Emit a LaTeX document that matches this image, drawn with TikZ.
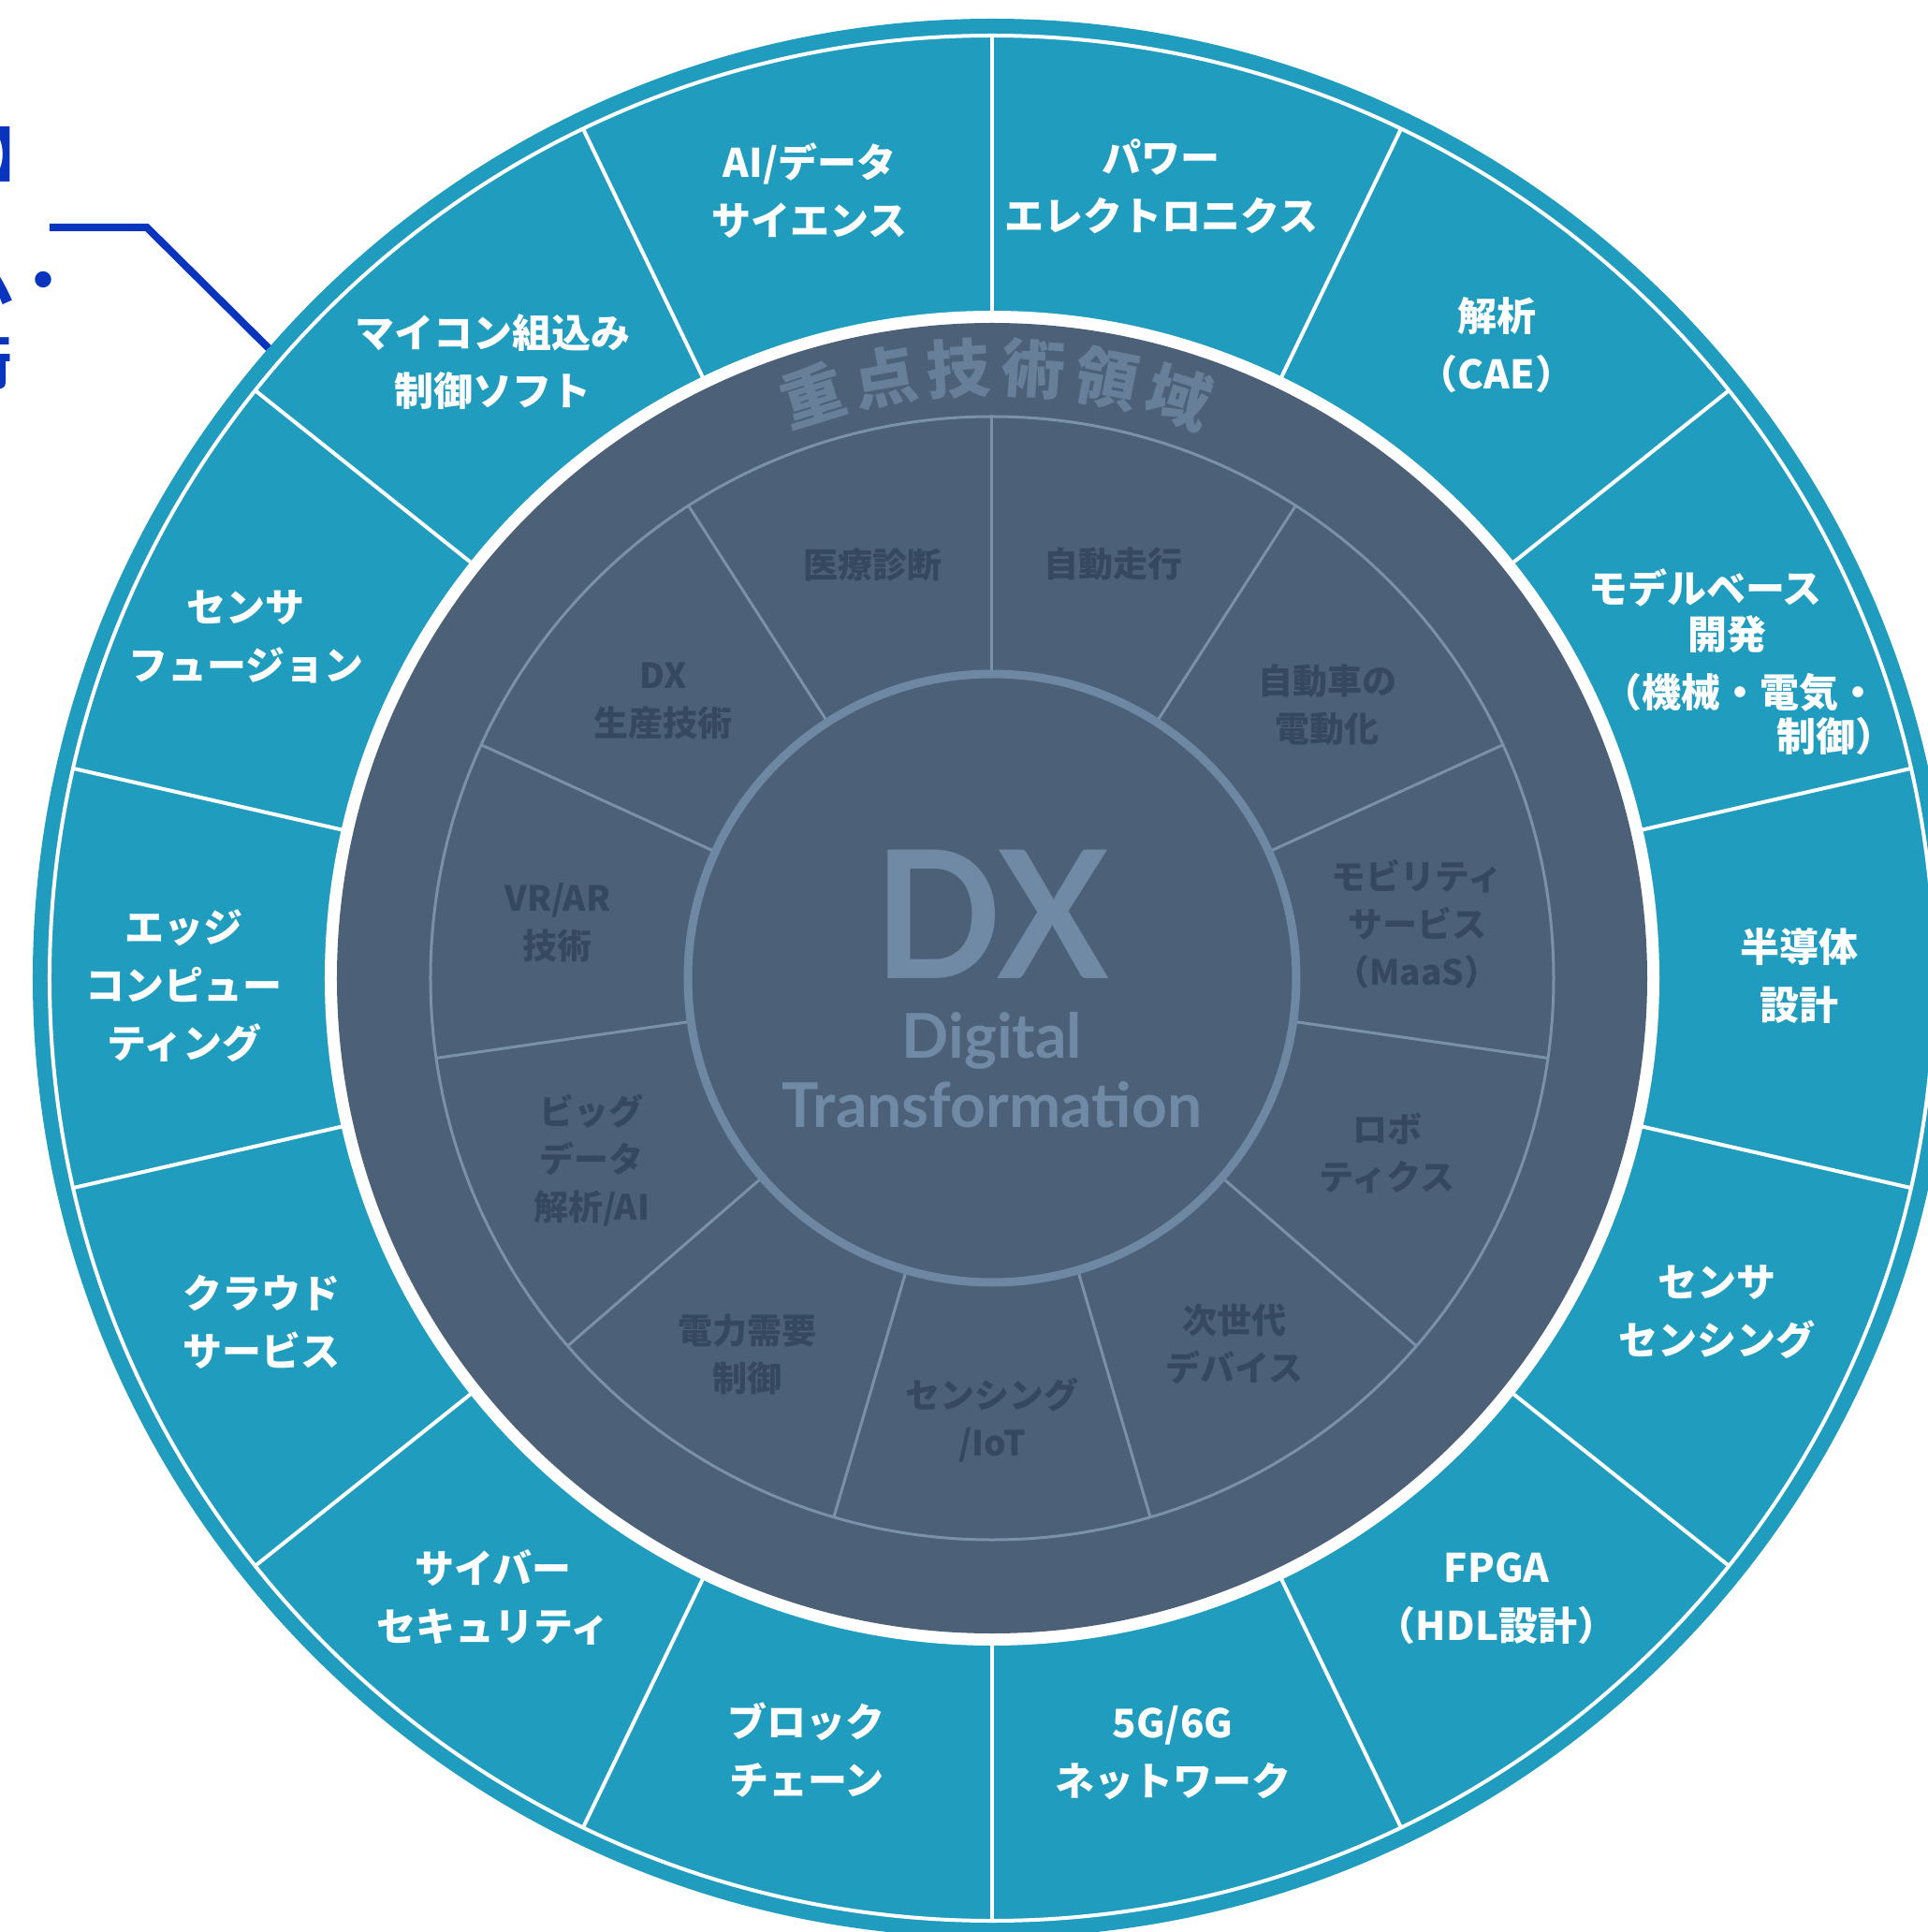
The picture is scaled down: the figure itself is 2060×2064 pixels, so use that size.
\documentclass[tikz,border=0pt]{standalone}
\usepackage{fontspec}
\newfontfamily\jp{Noto Sans CJK JP}[UprightFont=* Black,BoldFont=* Black]
\newfontfamily\lat{Lato}
\definecolor{ringblue}{RGB}{31,156,190}
\definecolor{slate}{RGB}{76,97,120}
\definecolor{slateline}{RGB}{122,145,170}
\definecolor{dxring}{RGB}{110,135,162}
\definecolor{dxtext}{RGB}{112,137,165}
\definecolor{innertext}{RGB}{54,72,96}
\definecolor{arctext}{RGB}{104,127,153}
\definecolor{callout}{RGB}{8,52,190}
\begin{document}
\begin{tikzpicture}[x=1pt,y=1pt,
  outerlbl/.style={text=white, align=center, inner sep=0pt, font=\jp\fontsize{42}{62}\selectfont},
  innerlbl/.style={text=innertext, align=center, inner sep=0pt, font=\jp\fontsize{37}{51}\selectfont},
  sepline/.style={white, line width=4pt},
  isepline/.style={slateline, line width=3pt},
  arcch/.style={text=arctext, inner sep=0pt, font=\jp\fontsize{68}{68}\selectfont},
  calltext/.style={text=callout, inner sep=0pt, font=\jp\fontsize{62}{62}\selectfont}]
\useasboundingbox (-1060,-1019) rectangle (1000,1045);
\clip (-1060,-1019) rectangle (1000,1045);
\fill[white] (-1060,-1019) rectangle (1000,1045);
% outer ring
\fill[ringblue] (0,0) circle (1025pt);
\draw[white, line width=4pt] (0,0) circle (1007pt);
\fill[white] (0,0) circle (713pt);
\fill[slate] (0,0) circle (700pt);
\foreach \k in {0,...,13} \draw[sepline] ({90+\k*360/14}:713pt) -- ({90+\k*360/14}:1007pt);
% inner ring
\draw[isepline] (0,0) circle (600pt);
\foreach \k in {0,...,10} \draw[isepline] ({90-\k*360/11}:328pt) -- ({90-\k*360/11}:600pt);
\draw[dxring, line width=9pt] (0,0) circle (325pt);
% curved title
\foreach \i/\c in {0/重,1/点,2/技,3/術,4/領,5/域}
  \node[arcch, rotate={107.1-\i*6.98-90}] (arc\i) at ({107.1-\i*6.98}:652pt) {\c};
% centre
\node[text=dxtext, inner sep=0pt, xscale=0.94, font=\lat\bfseries\fontsize{190}{190}\selectfont] (dx) at (0,68) {DX};
\node[text=dxtext, inner sep=0pt, font=\lat\bfseries\fontsize{66}{66}\selectfont] (dig) at (0,-67) {Digital};
\node[text=dxtext, inner sep=0pt, font=\lat\bfseries\fontsize{66}{66}\selectfont] (trf) at (0,-135) {Transformation};
% outer labels
\node[outerlbl] (o1) at (-195,841) {AI/データ\\サイエンス};
\node[outerlbl] (o2) at (181,846) {パワー\\エレクトロニクス};
\node[outerlbl] (o3) at (539,676) {解析\\（CAE）};
\node[outerlbl] (o4a) at (762,417) {モデルベース};
\node[outerlbl] (o4b) at (785,367) {開発};
\node[outerlbl, anchor=east] (o4c) at (947,305) {（機械・電気・};
\node[outerlbl, anchor=east] (o4d) at (965,258) {制御）};
\node[outerlbl] (o5) at (862,3) {半導体\\設計};
\node[outerlbl] (o6) at (774,-357) {センサ\\センシング};
\node[outerlbl] (o7) at (539,-663) {FPGA\\（HDL設計）};
\node[outerlbl] (o8) at (193,-828) {5G/6G\\ネットワーク};
\node[outerlbl] (o9) at (-198,-825) {ブロック\\チェーン};
\node[outerlbl] (o10) at (-533,-661) {サイバー\\セキュリティ};
\node[outerlbl] (o11) at (-780,-367) {クラウド\\サービス};
\node[outerlbl] (o12) at (-863,-8) {エッジ\\コンピュー\\ティング};
\node[outerlbl] (o13) at (-797,365) {センサ\\フュージョン};
\node[outerlbl] (o14) at (-533,658) {マイコン組込み\\制御ソフト};
% inner labels
\node[innerlbl] (i1) at (-127,442) {医療診断};
\node[innerlbl] (i2) at (130,442) {自動走行};
\node[innerlbl] (i3) at (358,292) {自動車の\\電動化};
\node[innerlbl] (i4) at (454,58) {モビリティ\\サービス\\（MaaS）};
\node[innerlbl] (i5) at (422,-187) {ロボ\\ティクス};
\node[innerlbl] (i6) at (259,-391) {次世代\\デバイス};
\node[innerlbl] (i7) at (0,-472) {センシング\\/IoT};
\node[innerlbl] (i8) at (-261,-402) {電力需要\\制御};
\node[innerlbl] (i9) at (-428,-195) {ビッグ\\データ\\解析/AI};
\node[innerlbl] (i10) at (-464,59) {VR/AR\\技術};
\node[innerlbl] (i11) at (-351,296) {DX\\生産技術};
% callout (cut off at the left edge)
\node[calltext, anchor=east] (t1) at (-1008,880) {】};
\node[calltext, anchor=east] (t2) at (-982,745) {システム・};
\node[calltext, anchor=east] (t3) at (-1047,658) {技術};
\coordinate (c1) at (-1007,802);
\coordinate (c2) at (-903,802);
\coordinate (c3) at (-773,673);
\draw[callout, line width=8pt] (c1) -- (c2) -- (c3);
\end{tikzpicture}
\end{document}
